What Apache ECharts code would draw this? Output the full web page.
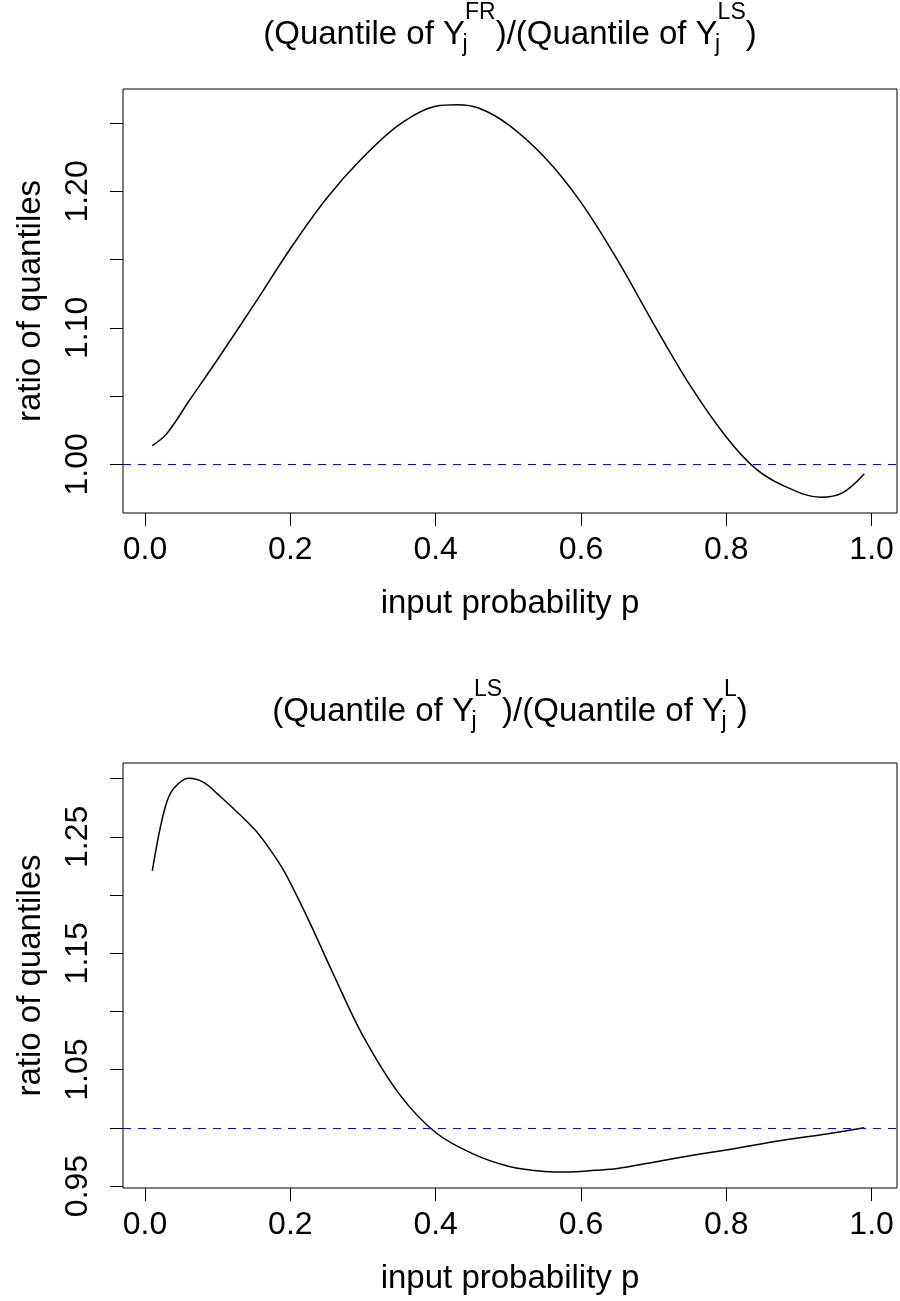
<!DOCTYPE html>
<html>
<head>
<meta charset="utf-8">
<title>ratio of quantiles</title>
<script src="https://cdn.jsdelivr.net/npm/echarts@6/dist/echarts.min.js"></script>
<style>
  html, body { margin: 0; padding: 0; background: #fff; }
  #chart { width: 900px; height: 1301px; }
</style>
</head>
<body>
<div id="chart"></div>
<script>
// top panel: FR / LS
const topP = [0.01, 0.03, 0.06, 0.10, 0.15, 0.20, 0.25, 0.30, 0.35, 0.40, 0.43, 0.46, 0.50, 0.55, 0.60, 0.65, 0.70, 0.75, 0.80, 0.84, 0.88, 0.93, 0.96, 0.99];
const topRatio = [1.0137, 1.0225, 1.046, 1.077, 1.117, 1.158, 1.195, 1.225, 1.249, 1.2625, 1.2636, 1.261, 1.249, 1.225, 1.192, 1.150, 1.103, 1.058, 1.020, 0.997, 0.984, 0.9758, 0.979, 0.993];

// bottom panel: LS / L
const bottomP = [0.01, 0.02, 0.03, 0.04, 0.06, 0.08, 0.10, 0.15, 0.17, 0.19, 0.21, 0.23, 0.26, 0.30, 0.35, 0.40, 0.45, 0.50, 0.55, 0.58, 0.62, 0.65, 0.70, 0.76, 0.80, 0.88, 0.94, 0.99];
const bottomRatio = [1.2207, 1.255, 1.280, 1.292, 1.3003, 1.297, 1.2868, 1.257, 1.241, 1.222, 1.198, 1.172, 1.131, 1.079, 1.029, 0.996, 0.978, 0.967, 0.9625, 0.962, 0.9635, 0.965, 0.9705, 0.977, 0.981, 0.9895, 0.995, 1.000];

const xTicks = [0.0, 0.2, 0.4, 0.6, 0.8, 1.0];
const topTicksY = [1.00, 1.05, 1.10, 1.15, 1.20, 1.25];
const topLabelsY = [1.00, 1.10, 1.20];
const bottomTicksY = [0.95, 1.00, 1.05, 1.10, 1.15, 1.20, 1.25, 1.30];
const bottomLabelsY = [0.95, 1.05, 1.15, 1.25];

const font = 'Liberation Sans';
const chart = echarts.init(document.getElementById('chart'));

function xAxisFor(i) {
  return {
    type: 'value',
    gridIndex: i,
    min: -0.0303,
    max: 1.035,
    name: 'input probability p',
    nameLocation: 'middle',
    nameGap: 74,
    nameTextStyle: { color: '#000', fontSize: 33, fontFamily: font },
    axisLine: { show: false, onZero: false },
    splitLine: { show: false },
    axisTick: { show: true, length: 13, customValues: xTicks, lineStyle: { color: '#000', width: 1 } },
    axisLabel: {
      color: '#000', fontSize: 32, fontFamily: font, margin: 21,
      customValues: xTicks,
      formatter: v => v.toFixed(1)
    }
  };
}

function yAxisFor(i, min, max, ticks, labels) {
  return {
    type: 'value',
    gridIndex: i,
    min: min,
    max: max,
    name: 'ratio of quantiles',
    nameLocation: 'middle',
    nameGap: 76,
    nameTextStyle: { color: '#000', fontSize: 33, fontFamily: font },
    axisLine: { show: false, onZero: false },
    splitLine: { show: false },
    axisTick: { show: true, length: 13, customValues: ticks, lineStyle: { color: '#000', width: 1 } },
    axisLabel: {
      color: '#000', fontSize: 32, fontFamily: font, margin: 29, rotate: 90,
      customValues: labels,
      formatter: v => v.toFixed(2)
    }
  };
}

// j sits under the superscript: zero-width token, pushed down with its own height
const titleRich = {
  sb: { fontSize: 23, fontFamily: font, color: '#000', width: 0, align: 'left', verticalAlign: 'bottom', height: 46 },
  sp: { fontSize: 23, fontFamily: font, color: '#000', verticalAlign: 'top' }
};

function titleFor(text, top) {
  return {
    text: text,
    left: 510,
    top: top,
    textAlign: 'center',
    padding: 0,
    textStyle: { color: '#000', fontSize: 33, fontFamily: font, fontWeight: 'normal', lineHeight: 67, rich: titleRich }
  };
}

function refLine() {
  return {
    symbol: 'none',
    silent: true,
    label: { show: false },
    lineStyle: { color: '#0000ff', type: [8, 7], width: 1 },
    data: [{ yAxis: 1 }]
  };
}

chart.setOption({
  backgroundColor: '#fff',
  animation: false,
  title: [
    titleFor('(Quantile of Y{sb|j}{sp|FR})/(Quantile of Y{sb|j}{sp|LS})', 1),
    titleFor('(Quantile of Y{sb|j}{sp|LS})/(Quantile of Y{sb|j}{sp|L})', 678)
  ],
  grid: [
    { left: 123, top: 89, width: 774, height: 424, show: true, borderColor: '#000', borderWidth: 1, backgroundColor: 'transparent' },
    { left: 123, top: 763, width: 774, height: 425, show: true, borderColor: '#000', borderWidth: 1, backgroundColor: 'transparent' }
  ],
  xAxis: [xAxisFor(0), xAxisFor(1)],
  yAxis: [
    yAxisFor(0, 0.9643, 1.2751, topTicksY, topLabelsY),
    yAxisFor(1, 0.9483, 1.3135, bottomTicksY, bottomLabelsY)
  ],
  series: [
    {
      type: 'line', xAxisIndex: 0, yAxisIndex: 0,
      data: topP.map((p, k) => [p, topRatio[k]]),
      showSymbol: false, smooth: 0.35,
      lineStyle: { color: '#000', width: 1.5 },
      markLine: refLine()
    },
    {
      type: 'line', xAxisIndex: 1, yAxisIndex: 1,
      data: bottomP.map((p, k) => [p, bottomRatio[k]]),
      showSymbol: false, smooth: 0.35,
      lineStyle: { color: '#000', width: 1.5 },
      markLine: refLine()
    }
  ]
});
</script>
</body>
</html>
